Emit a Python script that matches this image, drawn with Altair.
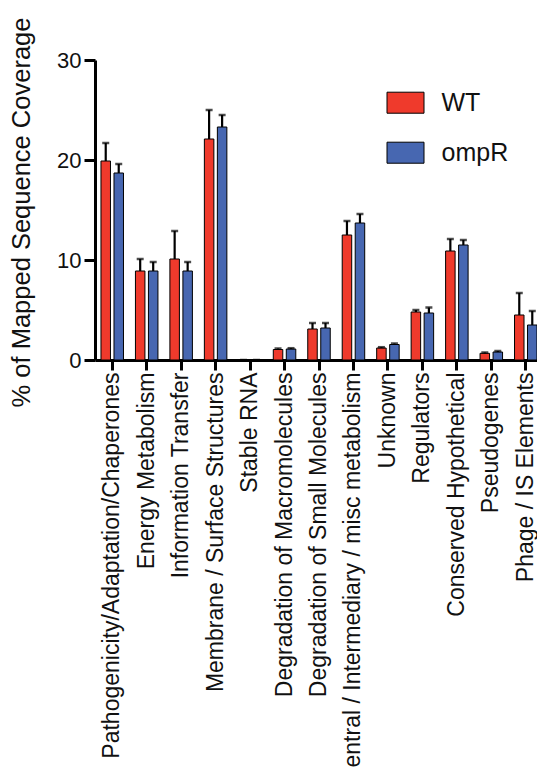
import altair as alt
import pandas as pd

categories = [
    "Pathogenicity/Adaptation/Chaperones",
    "Energy Metabolism",
    "Information Transfer",
    "Membrane / Surface Structures",
    "Stable RNA",
    "Degradation of Macromolecules",
    "Degradation of Small Molecules",
    "Central / Intermediary / misc metabolism",
    "Unknown",
    "Regulators",
    "Conserved Hypothetical",
    "Pseudogenes",
    "Phage / IS Elements",
]
series = ["WT", "ompR"]
wt_mean = [19.9, 8.9, 10.1, 22.1, 0.0, 1.05, 3.1, 12.5, 1.2, 4.8, 10.9, 0.67, 4.5]
wt_err = [1.8, 1.2, 2.8, 2.9, 0.0, 0.1, 0.6, 1.4, 0.08, 0.2, 1.2, 0.08, 2.2]
ompr_mean = [18.7, 8.9, 8.9, 23.3, 0.0, 1.1, 3.2, 13.7, 1.55, 4.7, 11.5, 0.8, 3.5]
ompr_err = [0.9, 0.9, 0.9, 1.2, 0.0, 0.08, 0.5, 0.9, 0.1, 0.55, 0.5, 0.1, 1.4]
colors = ["#EF3A2C", "#4767B1"]

rows = []
for i, c in enumerate(categories):
    rows.append({"category": c, "series": "WT", "value": wt_mean[i], "upper": wt_mean[i] + wt_err[i]})
    rows.append({"category": c, "series": "ompR", "value": ompr_mean[i], "upper": ompr_mean[i] + ompr_err[i]})
df = pd.DataFrame(rows)

FONT = "Liberation Sans"
yscale = alt.Scale(domain=[0, 30], nice=False, zero=True)

x = alt.X(
    "category:N",
    sort=categories,
    scale=alt.Scale(paddingInner=0, paddingOuter=0),
    axis=alt.Axis(
        title=None, labelAngle=-90, labelFontSize=23, labelFont=FONT, labelColor="#111111",
        labelPadding=2, tickSize=10, tickWidth=3, tickColor="black",
        domainWidth=3, domainColor="black", labelLimit=1000,
    ),
)
xo = alt.XOffset("series:N", sort=series, scale=alt.Scale(paddingInner=0.27, paddingOuter=0.46))
yaxis = alt.Axis(
    values=[0, 10, 20, 30], grid=False, title="% of Mapped Sequence Coverage",
    titleFont=FONT, titleFontSize=25.5, titleFontWeight="normal", titleColor="#111111",
    titleX=-74, titleY=152, titleAngle=-90, titleAlign="center", titleBaseline="middle",
    labelFont=FONT, labelFontSize=22, labelColor="#111111", labelPadding=3,
    tickSize=11, tickWidth=3, tickColor="black", domainWidth=3, domainColor="black",
)
color = alt.Color(
    "series:N",
    sort=series,
    scale=alt.Scale(domain=series, range=colors),
    legend=alt.Legend(
        title=None, orient="none", legendX=291.5, legendY=23.7, padding=0,
        symbolType="M-1,-0.568H1V0.568H-1Z", symbolSize=1369,
        symbolStrokeColor="black", symbolStrokeWidth=1, symbolOpacity=1,
        labelFont=FONT, labelFontSize=25, labelColor="#111111", labelOffset=17,
        rowPadding=18,
    ),
)

bars = alt.Chart(df).mark_bar(stroke="black", strokeWidth=1, opacity=1).encode(
    x=x, xOffset=xo, y=alt.Y("value:Q", scale=yscale, axis=yaxis), color=color
)
err = alt.Chart(df).mark_rule(strokeWidth=2.2, color="black").encode(
    x=x, xOffset=xo, y=alt.Y("value:Q", scale=yscale, axis=yaxis), y2="upper:Q"
)
cap = alt.Chart(df).mark_tick(orient="horizontal", size=7, thickness=2.5, color="black").encode(
    x=x, xOffset=xo, y=alt.Y("upper:Q", scale=yscale, axis=yaxis)
)

chart = (
    alt.layer(bars, err, cap)
    .properties(
        width=448, height=300,
        background="white",
        autosize=alt.AutoSizeParams(type="none"),
        padding={"left": 87, "top": 52, "right": -6, "bottom": 408},
    )
    .configure_view(stroke=None)
    .configure_axis(grid=False)
)

chart.save("out.html", embed_options={"renderer": "svg", "actions": False})
